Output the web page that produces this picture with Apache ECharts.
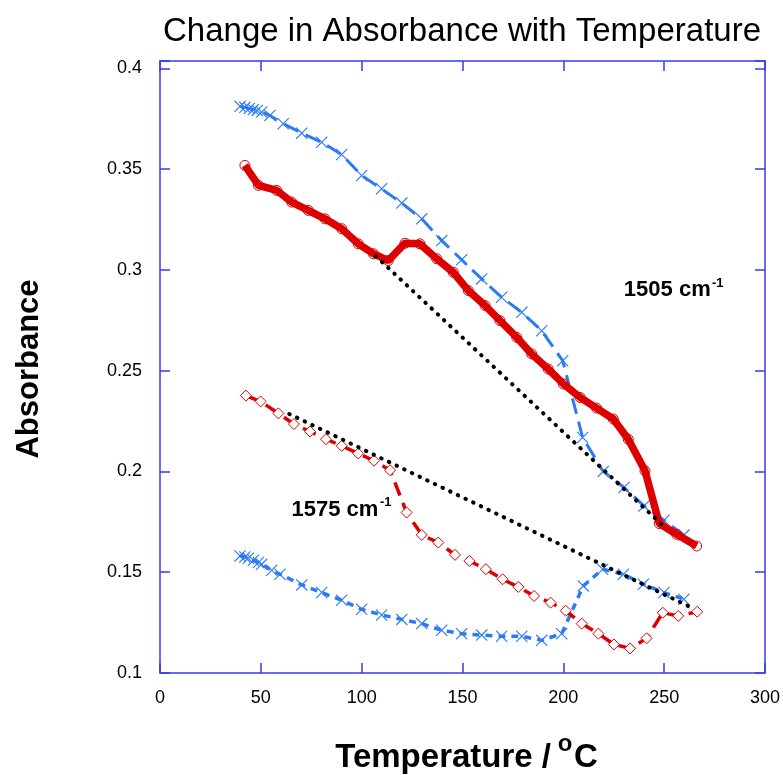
<!DOCTYPE html>
<html>
<head>
<meta charset="utf-8">
<title>Change in Absorbance with Temperature</title>
<script src="https://cdn.jsdelivr.net/npm/echarts@6/dist/echarts.min.js"></script>
<style>
html, body { margin: 0; padding: 0; background: #fff; }
#grafico { width: 783px; height: 775px; }
</style>
</head>
<body>
<div id="grafico"></div>
<script>
// valores (temperatura en C, absorbancia)
const tempAzulSup = [39.7, 42.1, 44.3, 46.3, 48.2, 50.4, 54.5, 61.1, 70.3, 80.2, 90.1, 100, 109.9, 119.9, 129.8, 139.7, 149.6, 159.5, 169.4, 179.4, 189.3, 199.7, 209.6, 219.8, 230.1, 240, 249.9, 259.8]
const absAzulSup = [0.3811, 0.3806, 0.3800, 0.3795, 0.3791, 0.3783, 0.3766, 0.3725, 0.3678, 0.3633, 0.3572, 0.3468, 0.3402, 0.3331, 0.3253, 0.3145, 0.3050, 0.2955, 0.2864, 0.2789, 0.2698, 0.2549, 0.2168, 0.2000, 0.1920, 0.1829, 0.1758, 0.1684]

const tempRojo1505 = [42.1, 48.8, 57.9, 65.3, 73.5, 81.8, 90.1, 98.3, 105.8, 113.2, 121.5, 128.9, 137.2, 145.4, 152.9, 161.2, 168.6, 176.9, 184.3, 192.5, 200, 208.3, 216.5, 224.8, 232.2, 240.5, 247.6, 256.2, 266.1]
const absRojo1505 = [0.3518, 0.3419, 0.3394, 0.3336, 0.3295, 0.3253, 0.3204, 0.3129, 0.3080, 0.3046, 0.3132, 0.3129, 0.3055, 0.2988, 0.2897, 0.2823, 0.2748, 0.2665, 0.2583, 0.2508, 0.2434, 0.2367, 0.2314, 0.2260, 0.2160, 0.2003, 0.1741, 0.1688, 0.1630]

const tempRojo1575 = [42.6, 49.9, 58.7, 66.4, 74.4, 82.3, 90.1, 98.3, 106.1, 114.1, 122.3, 129.8, 138, 146.3, 153.4, 161.6, 169.9, 177.7, 185.5, 193.7, 201.2, 209.1, 217.4, 225.1, 233.1, 241.3, 249.3, 257, 266.4]
const absRojo1575 = [0.2376, 0.2347, 0.2288, 0.2235, 0.2198, 0.2160, 0.2127, 0.2089, 0.2053, 0.2006, 0.1796, 0.1685, 0.1647, 0.1586, 0.1556, 0.1515, 0.1465, 0.1427, 0.1382, 0.1349, 0.1309, 0.1245, 0.1195, 0.1142, 0.1122, 0.1172, 0.1299, 0.1283, 0.1304]

const tempAzulInf = [39.7, 42.1, 43.8, 46.3, 48.8, 50.4, 55.4, 59.5, 70.3, 80.2, 90.1, 100, 109.9, 119.9, 129.8, 139.7, 149.6, 159.5, 169.4, 179.4, 189.3, 199.2, 209.9, 219.5, 229.8, 239.7, 249.9, 259.8]
const absAzulInf = [0.1581, 0.1576, 0.1569, 0.1559, 0.1548, 0.1539, 0.1510, 0.1490, 0.1437, 0.1399, 0.1361, 0.1316, 0.1288, 0.1266, 0.1245, 0.1212, 0.1195, 0.1188, 0.1182, 0.1182, 0.1162, 0.1195, 0.1432, 0.1515, 0.1490, 0.1440, 0.1399, 0.1366]

// lineas base punteadas
const tempBase1505 = [107, 250.4]
const absBase1505 = [0.3068, 0.1722]
const tempBase1575 = [64.1, 265.3]
const absBase1575 = [0.2285, 0.1316]

const xTicks = [0, 300, 50]
const yTicks = [0.1, 0.4036, 0.05]

const fuente = '"Liberation Sans", Arial, Helvetica, sans-serif'
const azul = '#2d7bf4'
const rojo = '#dd0000'
const ejeColor = '#3a3aeb'
const cruz = 'path://M0,0.8L0.8,0L12,11.2L11.2,12Z M11.2,0L12,0.8L0.8,12L0,11.2Z'

let zip = (xs, ys) => xs.map((x, i) => [x, ys[i]])

let myChart = echarts.init(document.getElementById('grafico'), null, { renderer: 'canvas' })

let ejeX = (pos, labels) => ({
  type: 'value',
  position: pos,
  min: xTicks[0],
  max: xTicks[1],
  interval: xTicks[2],
  axisLine: { show: true, onZero: false, lineStyle: { color: ejeColor, width: 1.5 } },
  axisTick: { show: true, inside: true, length: 10, lineStyle: { color: ejeColor, width: 1.5 } },
  axisLabel: { show: labels, color: '#000', fontSize: 18, fontFamily: fuente, margin: 16 },
  splitLine: { show: false }
})

let ejeY = (pos, labels) => ({
  type: 'value',
  position: pos,
  min: yTicks[0],
  max: yTicks[1],
  interval: yTicks[2],
  axisLine: { show: true, onZero: false, lineStyle: { color: ejeColor, width: 1.5 } },
  axisTick: { show: true, inside: true, length: 10, lineStyle: { color: ejeColor, width: 1.5 } },
  axisLabel: {
    show: labels,
    color: '#000',
    fontSize: 18,
    fontFamily: fuente,
    margin: 18,
    formatter: v => (v > 0.401 ? '' : String(+v.toFixed(2)))
  },
  splitLine: { show: false }
})

let option = {
  animation: false,
  backgroundColor: '#fff',
  grid: { left: 160, top: 61, width: 605, height: 612, containLabel: false },
  xAxis: [ejeX('bottom', true), ejeX('top', false)],
  yAxis: [ejeY('left', true), ejeY('right', false)],
  series: [
    {
      name: '1505 azul',
      type: 'line',
      data: zip(tempAzulSup, absAzulSup),
      symbol: cruz,
      symbolSize: 12,
      itemStyle: { color: azul },
      lineStyle: { color: azul, width: 3, type: [16, 8] },
      z: 2
    },
    {
      name: '1575 azul',
      type: 'line',
      data: zip(tempAzulInf, absAzulInf),
      symbol: cruz,
      symbolSize: 12,
      itemStyle: { color: azul },
      lineStyle: { color: azul, width: 3.5, type: [7, 6] },
      z: 2
    },
    {
      name: '1575 rojo',
      type: 'line',
      data: zip(tempRojo1575, absRojo1575),
      symbol: 'diamond',
      symbolSize: 11,
      itemStyle: { color: '#fff', borderColor: rojo, borderWidth: 1 },
      lineStyle: { color: rojo, width: 3.5, type: [14, 8] },
      z: 3
    },
    {
      name: '1505 rojo',
      type: 'line',
      data: zip(tempRojo1505, absRojo1505),
      symbol: 'circle',
      symbolSize: 10,
      itemStyle: { color: 'rgba(255,255,255,0)', borderColor: rojo, borderWidth: 1 },
      lineStyle: { color: rojo, width: 7.5 },
      z: 3
    },
    {
      name: 'base 1505',
      type: 'line',
      data: zip(tempBase1505, absBase1505),
      symbol: 'none',
      lineStyle: { color: '#000', width: 4, type: [0.5, 8], cap: 'round' },
      z: 4
    },
    {
      name: 'base 1575',
      type: 'line',
      data: zip(tempBase1575, absBase1575),
      symbol: 'none',
      lineStyle: { color: '#000', width: 4, type: [0.5, 8], cap: 'round' },
      z: 4
    }
  ],
  graphic: [
    {
      type: 'text', x: 462, y: 32,
      style: { text: 'Change in Absorbance with Temperature', fontSize: 33, fontFamily: fuente, fill: '#000', align: 'center', verticalAlign: 'middle' }
    },
    {
      type: 'text', x: 29, y: 369, rotation: Math.PI / 2,
      style: { text: 'Absorbance', fontSize: 31, fontWeight: 'bold', fontFamily: fuente, fill: '#000', align: 'center', verticalAlign: 'middle' }
    },
    {
      type: 'text', x: 551, y: 758,
      style: { text: 'Temperature /', fontSize: 33, fontWeight: 'bold', fontFamily: fuente, fill: '#000', align: 'right', verticalAlign: 'middle' }
    },
    {
      type: 'text', x: 565, y: 744.5,
      style: { text: 'o', fontSize: 24, fontWeight: 'bold', fontFamily: fuente, fill: '#000', align: 'center', verticalAlign: 'middle' }
    },
    {
      type: 'text', x: 574, y: 758,
      style: { text: 'C', fontSize: 33, fontWeight: 'bold', fontFamily: fuente, fill: '#000', align: 'left', verticalAlign: 'middle' }
    },
    {
      type: 'text', x: 710.7, y: 290,
      style: { text: '1505 cm', fontSize: 22, fontWeight: 'bold', fontFamily: fuente, fill: '#000', align: 'right', verticalAlign: 'middle' }
    },
    {
      type: 'text', x: 712, y: 283,
      style: { text: '-1', fontSize: 13, fontWeight: 'bold', fontFamily: fuente, fill: '#000', align: 'left', verticalAlign: 'middle' }
    },
    {
      type: 'text', x: 378.3, y: 509.5,
      style: { text: '1575 cm', fontSize: 22, fontWeight: 'bold', fontFamily: fuente, fill: '#000', align: 'right', verticalAlign: 'middle' }
    },
    {
      type: 'text', x: 380, y: 502,
      style: { text: '-1', fontSize: 13, fontWeight: 'bold', fontFamily: fuente, fill: '#000', align: 'left', verticalAlign: 'middle' }
    }
  ]
}

myChart.setOption(option)
</script>
</body>
</html>
